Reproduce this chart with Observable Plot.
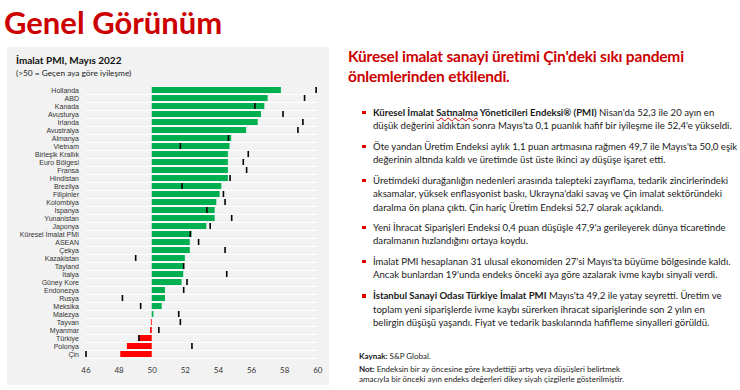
<!DOCTYPE html>
<html><head><meta charset="utf-8">
<script src="https://cdn.jsdelivr.net/npm/d3@7"></script>
<script src="https://cdn.jsdelivr.net/npm/@observablehq/plot@0.6"></script>
<style>
html,body{margin:0;padding:0}
body{width:740px;height:390px;background:#fff;font-family:Lato,"Noto Sans",sans-serif;position:relative;overflow:hidden;color:#1a1a1a}
#title{position:absolute;left:4px;top:2px;font-size:31px;font-weight:700;color:#cc0000;line-height:40px;white-space:nowrap}
#panel{position:absolute;left:7px;top:47px;width:322px;height:338px;background:#f2f2f2}
.ct{position:absolute;left:9px;top:7px;font-size:10px;font-weight:700;line-height:12px;white-space:nowrap;color:#111}
.cs{position:absolute;left:9px;top:21px;font-size:8.3px;line-height:10px;white-space:nowrap;color:#222}
#chart{position:absolute;left:0;top:31px}
#head{position:absolute;left:348px;top:46px;font-size:15.5px;letter-spacing:-0.2px;font-weight:700;color:#cc0000;line-height:20px;white-space:nowrap}
.b{position:absolute;left:373px;font-size:9.6px;line-height:13.5px;white-space:nowrap;color:#1a1a1a}
.b::before{content:"";position:absolute;left:-11px;top:5px;width:3.5px;height:3.5px;background:#e00000}
.sp{text-decoration:underline wavy #e00000;text-decoration-thickness:1px}
.f{position:absolute;left:359px;font-size:8px;line-height:9.5px;white-space:nowrap;color:#1a1a1a}
#chart svg g[aria-label="y-axis tick label"] text{font-family:"Liberation Sans",Arial,sans-serif}
</style></head>
<body>
<div id="title">Genel Görünüm</div>
<div id="panel">
  <div class="ct">İmalat PMI, Mayıs 2022</div>
  <div class="cs">(&gt;50 = Geçen aya göre iyileşme)</div>
  <div id="chart"></div>
</div>
<div id="head">Küresel imalat sanayi üretimi Çin'deki sıkı pandemi<br>önlemlerinden etkilendi.</div>
<div class="b" style="top:105.5px"><b>Küresel İmalat <span class="sp">Satınalma</span> Yöneticileri Endeksi® (PMI)</b> Nisan'da 52,3 ile 20 ayın en<br>düşük değerini aldıktan sonra Mayıs'ta 0,1 puanlık hafif bir iyileşme ile 52,4'e yükseldi.</div>
<div class="b" style="top:139.5px">Öte yandan Üretim Endeksi aylık 1,1 puan artmasına rağmen 49,7 ile Mayıs'ta 50,0 eşik<br>değerinin altında kaldı ve üretimde üst üste ikinci ay düşüşe işaret etti.</div>
<div class="b" style="top:173.5px">Üretimdeki durağanlığın nedenleri arasında talepteki zayıflama, tedarik zincirlerindeki<br>aksamalar, yüksek enflasyonist baskı, Ukrayna'daki savaş ve Çin imalat sektöründeki<br>daralma ön plana çıktı. Çin hariç Üretim Endeksi 52,7 olarak açıklandı.</div>
<div class="b" style="top:220.5px">Yeni İhracat Siparişleri Endeksi 0,4 puan düşüşle 47,9'a gerileyerek dünya ticaretinde<br>daralmanın hızlandığını ortaya koydu.</div>
<div class="b" style="top:254.5px">İmalat PMI hesaplanan 31 ulusal ekonomiden 27'si Mayıs'ta büyüme bölgesinde kaldı.<br>Ancak bunlardan 19'unda endeks önceki aya göre azalarak ivme kaybı sinyali verdi.</div>
<div class="b" style="top:289px"><b>İstanbul Sanayi Odası Türkiye İmalat PMI</b> Mayıs'ta 49,2 ile yatay seyretti. Üretim ve<br>toplam yeni siparişlerde ivme kaybı sürerken ihracat siparişlerinde son 2 yılın en<br>belirgin düşüşü yaşandı. Fiyat ve tedarik baskılarında hafifleme sinyalleri görüldü.</div>
<div class="f" style="top:352px"><b>Kaynak:</b> S&amp;P Global.</div>
<div class="f" style="top:365px"><b>Not:</b> Endeksin bir ay öncesine göre kaydettiği artış veya düşüşleri belirtmek<br>amacıyla bir önceki ayın endeks değerleri dikey siyah çizgilerle gösterilmiştir.</div>
<script>
const countries = ["Hollanda","ABD","Kanada","Avusturya","İrlanda","Avustralya","Almanya","Vietnam","Birleşik Krallık","Euro Bölgesi","Fransa","Hindistan","Brezilya","Filipinler","Kolombiya","İspanya","Yunanistan","Japonya","Küresel İmalat PMI","ASEAN","Çekya","Kazakistan","Tayland","İtalya","Güney Kore","Endonezya","Rusya","Meksika","Malezya","Tayvan","Myanmar","Türkiye","Polonya","Çin"];
const mayValues = [57.8,57.0,56.8,56.6,56.4,55.7,54.8,54.7,54.6,54.6,54.6,54.6,54.2,54.1,53.9,53.8,53.8,53.3,52.4,52.3,52.3,52.0,51.9,51.9,51.8,50.8,50.8,50.6,50.1,49.95,49.9,49.2,48.5,48.1];
const aprilValues = [59.9,59.2,56.2,57.9,59.1,58.8,54.6,51.7,55.8,55.5,55.7,54.7,51.8,54.3,54.4,53.3,54.8,53.5,52.3,52.8,54.4,49.0,51.9,54.5,52.1,51.9,48.2,49.3,51.6,51.7,50.4,49.2,52.4,46.0];
const xTicks = [46,48,50,52,54,56,58,60];

const data = countries.map((c,i)=>({country:c, may:mayValues[i], apr:aprilValues[i]}));
const chart = Plot.plot({
  width:322, height:302,
  marginTop:5.5, marginBottom:20, marginLeft:78.5, marginRight:11.7,
  style:{background:"transparent", fontFamily:"Lato, sans-serif", fontSize:"8px", color:"#333"},
  x:{domain:[46,60], ticks:xTicks, tickSize:0, tickPadding:7, label:null},
  y:{domain:countries, paddingInner:0.25, paddingOuter:0.125, tickSize:0, tickPadding:7, label:null},
  marks:[
    Plot.ruleY(countries,{y:d=>d, dy:4.07, x1:46, x2:60, stroke:"#fff", strokeWidth:1}),
    Plot.barX(data,{y:"country", x1:50, x2:"may", fill:d=>d.may>=50?"#00b050":"#ff0000"}),
    Plot.tickX(data,{y:"country", x:"apr", stroke:"#000", strokeWidth:1.6}),
    Plot.axisY({tickSize:0, tickPadding:7, fontSize:7, label:null})
  ]
});
document.getElementById("chart").appendChild(chart);
</script>
</body></html>
